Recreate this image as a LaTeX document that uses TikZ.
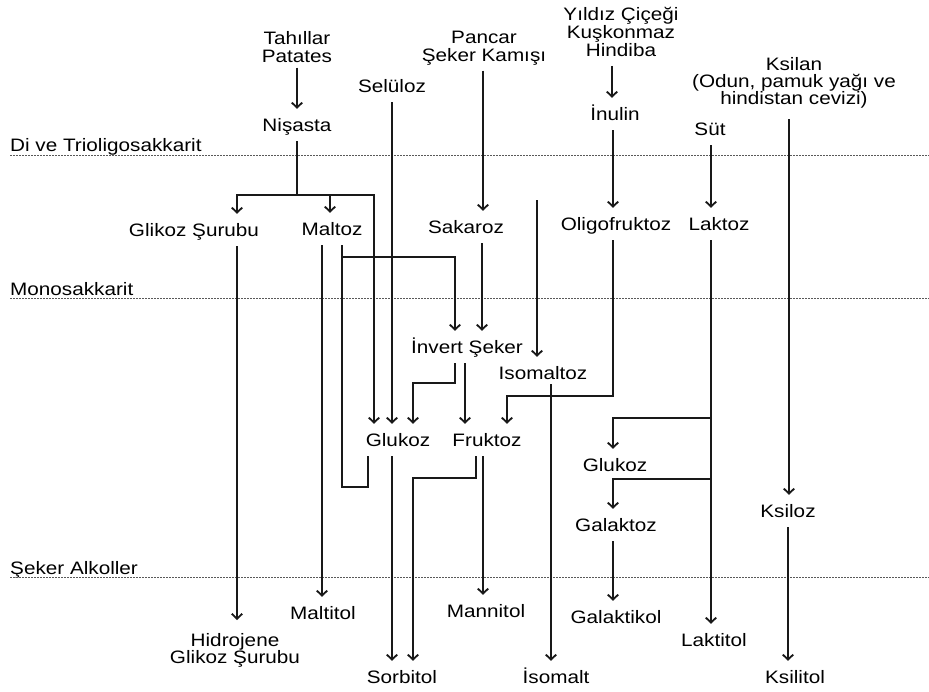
\documentclass[tikz,border=0pt]{standalone}
\usepackage{fontspec}
\setmainfont[FakeStretch=1.15]{Liberation Sans}
\usetikzlibrary{arrows.meta}
\newcommand\myfs[1]{\fontsize{18}{#1}\selectfont\lineskiplimit=-30pt\lineskip=0pt}
\begin{document}
\begin{tikzpicture}[x=1pt,y=-1pt,
  lbl/.style={font=\myfs{20}, inner xsep=0pt, inner ysep=6pt, text height=16pt, text depth=4pt, anchor=base},
  mlbl/.style={align=center, inner xsep=0pt, inner ysep=5pt, anchor=north},
  layer/.style={font=\myfs{20}, inner sep=0pt, anchor=base west},
  sepline/.style={line width=0.9pt, black!65, dash pattern=on 1.6pt off 1.4pt},
  ln/.style={line width=1.8pt, black!90},
  arr/.style={ln, -{Straight Barb[length=5pt,width=10.5pt]}}]
\useasboundingbox (0,0) rectangle (929,691);

% layer labels and separators
\node[layer] (L1) at (10,151) {Di ve Trioligosakkarit};
\node[layer] (L2) at (10,295) {Monosakkarit};
\node[layer] (L3) at (10,574) {Şeker Alkoller};
\draw[sepline] (10,155) -- (929,155);
\draw[sepline] (10,298) -- (929,298);
\draw[sepline] (10,577) -- (929,577);

% multi-line nodes
\node[mlbl, font=\myfs{18}]   (tah) at (297,26) {Tahıllar\\Patates};
\node[mlbl, font=\myfs{18}]   (pan) at (484,26) {Pancar\\Şeker Kamışı};
\node[mlbl, font=\myfs{18}]   (yil) at (621,2) {Yıldız Çiçeği\\Kuşkonmaz\\Hindiba};
\node[mlbl, font=\myfs{17}]   (ksn) at (794,52) {Ksilan\\(Odun, pamuk yağı ve\\hindistan cevizi)};
\node[mlbl, font=\myfs{17}]   (hgs) at (235,628) {Hidrojene\\Glikoz Şurubu};

% single-line nodes
\node[lbl] (nis)  at (297,131) {Nişasta};
\node[lbl] (sel)  at (392,92)  {Selüloz};
\node[lbl] (inu)  at (615,120) {İnulin};
\node[lbl] (sut)  at (710,135) {Süt};
\node[lbl] (gsr)  at (194,236) {Glikoz Şurubu};
\node[lbl] (mal)  at (332,235) {Maltoz};
\node[lbl] (sak)  at (466,233) {Sakaroz};
\node[lbl] (oli)  at (616,230) {Oligofruktoz};
\node[lbl] (lak)  at (719,230) {Laktoz};
\node[lbl] (inv)  at (467,353) {İnvert Şeker};
\node[lbl] (iso)  at (543,379) {Isomaltoz};
\node[lbl] (glk)  at (398,446) {Glukoz};
\node[lbl] (fru)  at (487,446) {Fruktoz};
\node[lbl] (glkb) at (615,471) {Glukoz};
\node[lbl] (gal)  at (616,531) {Galaktoz};
\node[lbl] (ksz)  at (788,517) {Ksiloz};
\node[lbl] (mtl)  at (323,619) {Maltitol};
\node[lbl] (man)  at (486,617) {Mannitol};
\node[lbl] (gtk)  at (616,623) {Galaktikol};
\node[lbl] (ltt)  at (714,646) {Laktitol};
\node[lbl] (sor)  at (402,683) {Sorbitol};
\node[lbl] (ism)  at (556,683) {İsomalt};
\node[lbl] (ksl)  at (795,683) {Ksilitol};
\coordinate (isosrc) at (537,200);

% connectors
\draw[arr] (tah.south) -- (tah.south |- nis.north);
\draw[arr] (nis.south) |- (237,195) -- ([xshift=43pt]gsr.north);
\draw[arr] (nis.south) |- (330,195) -- ([xshift=-2pt]mal.north);
\draw[arr] (nis.south) |- (374,195) -- ([xshift=-24pt]glk.north);
\draw[arr] (sel.south) -- (sel.south |- glk.north);
\draw[arr] ([xshift=-1pt]pan.south) -- ([xshift=17pt]sak.north);
\draw[arr, shorten <=4pt] ([xshift=-9pt]yil.south) -- ([xshift=-3pt]inu.north);
\draw[arr] ([xshift=-2pt]inu.south) -- ([xshift=-3pt]oli.north);
\draw[arr] ([xshift=1pt]sut.south) -- ([xshift=-8pt]lak.north);
\draw[arr, shorten <=6pt] ([xshift=-5pt]ksn.south) -- ([xshift=1pt]ksz.north);
\draw[arr] ([xshift=-10pt]mal.south) -- ([xshift=-1pt]mtl.north);
\draw[arr] ([xshift=10pt]mal.south) |- (455,257) -- ([xshift=-12pt]inv.north);
\draw[ln] ([xshift=10pt]mal.south) -- (342,487) -| ([xshift=-30pt]glk.south);
\draw[arr] ([xshift=16pt]sak.south) -- ([xshift=15pt]inv.north);
\draw[arr] (isosrc) -- ([xshift=-6pt]iso.north);
\draw[arr] ([xshift=-12pt]inv.south) |- (413,383) -- ([xshift=15pt]glk.north);
\draw[arr] ([xshift=-2pt]inv.south) -- ([xshift=-22pt]fru.north);
\draw[arr] ([xshift=-3pt]oli.south) |- (507,396) -- ([xshift=20pt]fru.north);
\draw[arr, shorten <=-5pt] ([xshift=8pt]iso.south) -- ([xshift=-5pt]ism.north);
\draw[arr] ([xshift=-8pt]lak.south) -- ([xshift=-3pt]ltt.north);
\draw[arr] ([xshift=-8pt]lak.south) |- (613,418) -- ([xshift=-2pt]glkb.north);
\draw[arr] ([xshift=-8pt]lak.south) |- (613,479) -- ([xshift=-3pt]gal.north);
\draw[arr] ([xshift=-6pt]glk.south) -- ([xshift=-10pt]sor.north);
\draw[arr] ([xshift=-4pt]fru.south) -- ([xshift=-3pt]man.north);
\draw[arr] ([xshift=-11pt]fru.south) |- (413,478) -- ([xshift=11pt]sor.north);
\draw[arr] ([xshift=-3pt]gal.south) -- ([xshift=-3pt]gtk.north);
\draw[arr, shorten >=8pt] ([xshift=43pt]gsr.south) -- ([xshift=2pt]hgs.north);
\draw[arr] (ksz.south) -- ([xshift=-7pt]ksl.north);
\end{tikzpicture}
\end{document}
